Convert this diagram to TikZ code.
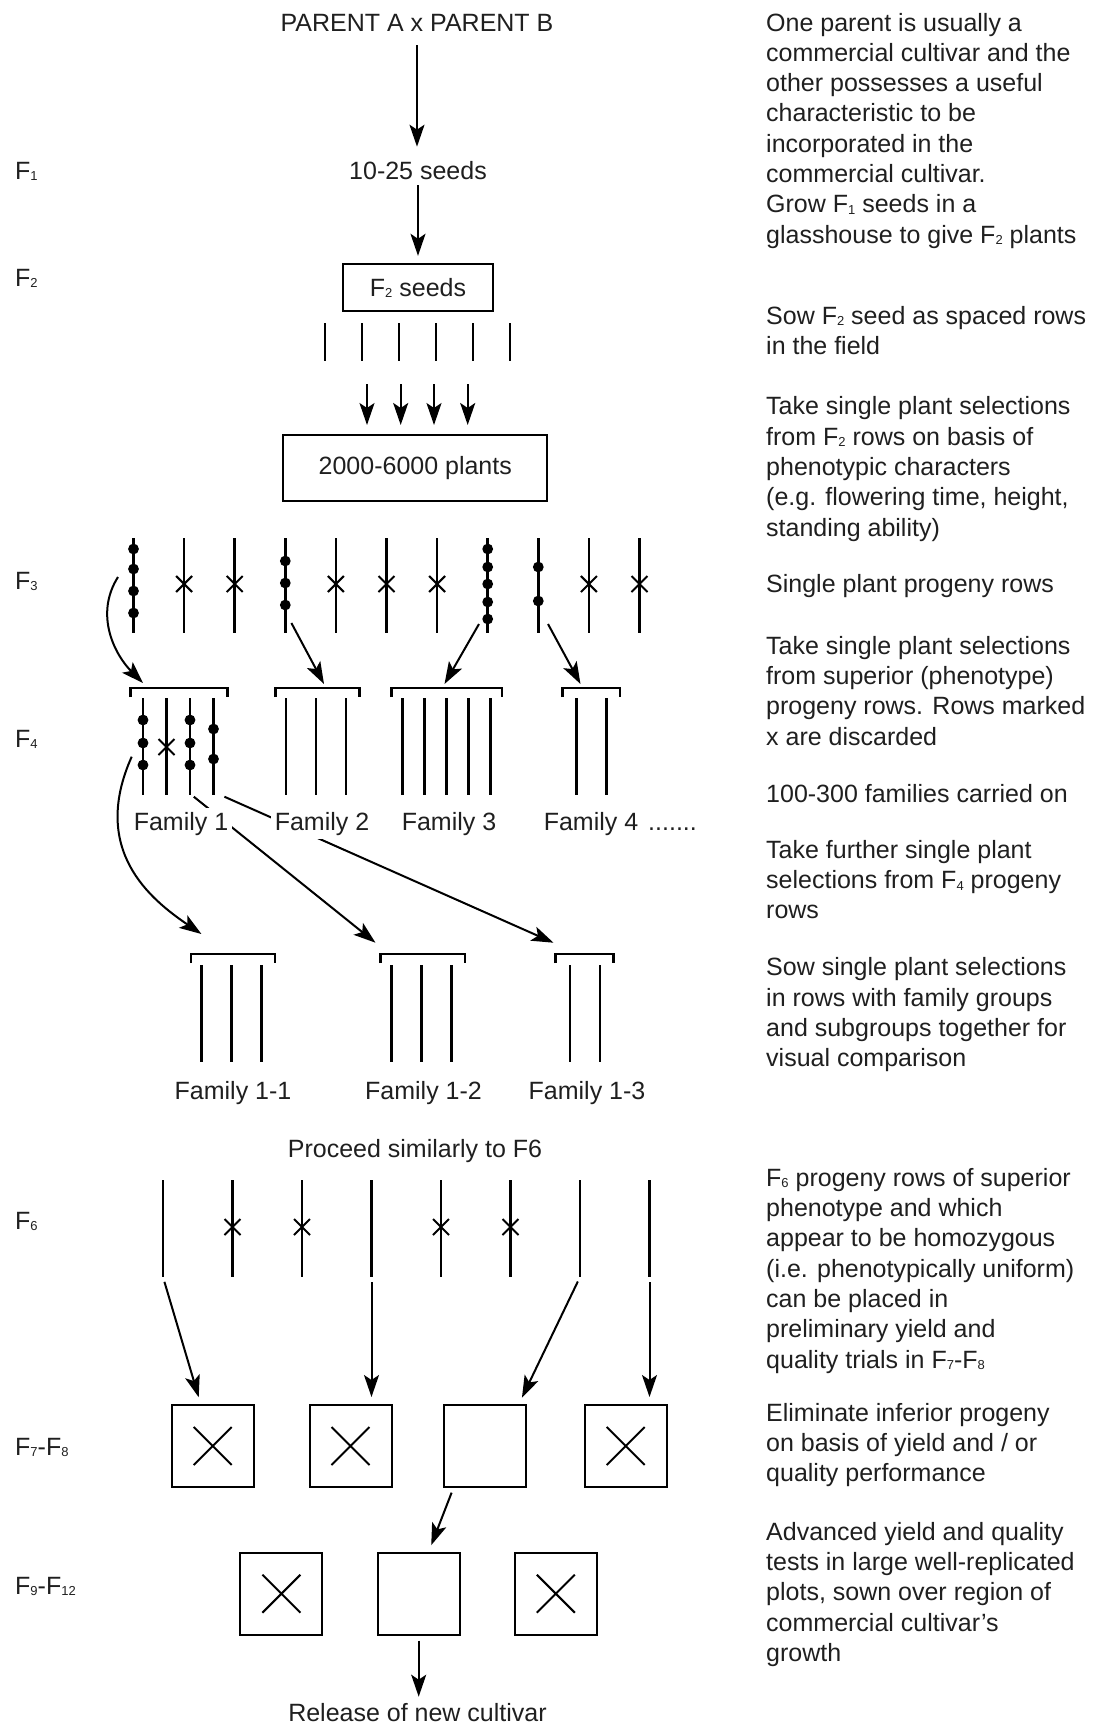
\documentclass[tikz,border=0pt]{standalone}
\usepackage{fontspec}
\setmainfont{Liberation Sans}
\usetikzlibrary{arrows.meta}

\newcommand{\gen}[1]{F{\fontsize{13}{13}\selectfont\raisebox{-1.5pt}{#1}}}

\tikzset{
  lbl/.style={font=\fontsize{25}{30.3}\selectfont, inner sep=0pt, text=black!88},
  note/.style={lbl, anchor=north west, align=left},
  genlbl/.style={lbl, anchor=base west},
  title/.style={lbl, anchor=base},
  fam/.style={lbl, anchor=base, fill=white, inner sep=4pt},
  box/.style={lbl, draw=black, line width=2pt},
  plot/.style={draw, line width=2pt, minimum size=82pt, inner sep=0pt},
  dropped/.style={plot, path picture={
      \draw[line width=2pt] ([shift={(-19pt,-19pt)}]path picture bounding box.center) -- ++(38pt,38pt)
                            ([shift={(-19pt,19pt)}]path picture bounding box.center) -- ++(38pt,-38pt);}},
  row/.style={line width=2.6pt},
  brk/.style={line width=2.4pt},
  xmark/.style={line width=2pt},
  arr/.style={line width=2pt, -{Stealth[length=22pt, width=15pt, inset=5pt]}},
}

\begin{document}
\begin{tikzpicture}[x=1pt,y=-1pt]
\useasboundingbox (0,0) rectangle (1099,1724);

% generations
\node[genlbl] (g1) at (15,179) {\gen{1}};
\node[genlbl] (g2) at (15,286) {\gen{2}};
\node[genlbl] (g3) at (15,589) {\gen{3}};
\node[genlbl] (g4) at (15,747) {\gen{4}};
\node[genlbl] (g6) at (15,1229) {\gen{6}};
\node[genlbl] (g7) at (15,1455) {\gen{7}-\gen{8}};
\node[genlbl] (g9) at (15,1594) {\gen{9}-\gen{12}};

% cross and F1, F2
\node[title] (parents) at (417,31) {PARENT A x PARENT B};
\node[title] (f1seed) at (418,179) {10-25 seeds};
\node[box, minimum width=150.5pt, minimum height=47pt] (f2seed) at (418,287.8) {\gen{2} seeds};
\node[box, minimum width=264pt, minimum height=65.7pt] (plants) at (415.3,467.9) {2000-6000 plants};
\draw[arr, shorten <=14pt, shorten >=14pt] (parents.south) -- (parents.south |- f1seed.north);
\draw[arr, shorten <=6pt, shorten >=7.5pt] (f1seed.south) -- (f1seed.south |- f2seed.north);
\foreach \i in {0,...,5}
  \draw[brk] ({325+37*\i},323) -- ++(0,38);
\foreach \x in {367,400.7,434,467.7}
  \draw[arr] (\x,384) -- (\x,425);

% F3 progeny rows
\foreach \i in {1,...,11}
  \draw[row] ({133.5+50.6*(\i-1)},538) -- ++(0,95);
\foreach \x/\ys in {133.5/{549,569,591,613}, 285.3/{561,583,605}, 487.7/{549,567,584,602,619}, 538.3/{567,601}}
  \foreach \y in \ys
    \fill (\x,\y) circle[radius=5.4pt];
\foreach \i in {2,3,5,6,7,10,11}
  \draw[xmark] ({133.5+50.6*(\i-1)},584) +(-8,-8) -- +(8,8) +(-8,8) -- +(8,-8);

% F4 families
\foreach \l/\r in {130.6/227.6, 275.5/359.5, 391.6/502, 562.3/620}
  \draw[brk] (\l,697) -- (\l,688) -- (\r,688) -- (\r,697);
\coordinate (t1) at (143,683);
\coordinate (t2) at (324,684);
\coordinate (t3) at (444.5,684);
\coordinate (t4) at (580.5,684);
\draw[arr] (118,577) .. controls (94,615) and (115,655) .. (t1);
\draw[arr] (291.4,623) -- (t2);
\draw[arr] (479,624) -- (t3);
\draw[arr] (548,624) -- (t4);
\foreach \x in {143,166.5,190,213.5, 286,316,346, 402.5,424.5,446.5,468.5,490.5, 576.5,606.5}
  \draw[row] (\x,698) -- (\x,795);
\foreach \x/\ys in {143/{720,743,765}, 190/{720,743,765}, 213.5/{729,759}}
  \foreach \y in \ys
    \fill (\x,\y) circle[radius=5.4pt];
\draw[xmark] (166.5,747) +(-8,-8) -- +(8,8) +(-8,8) -- +(8,-8);

% selections from family 1
\coordinate (u1) at (201.4,934);
\coordinate (u2) at (375.5,942.7);
\coordinate (u3) at (553.5,942.7);
\draw[arr] (131.7,756.7) .. controls (90,850) and (150,899) .. (u1);
\draw[arr] (193.8,796.7) -- (u2);
\draw[arr] (224.4,796.7) -- (u3);
\node[fam] (fam1) at (181,830) {Family 1};
\node[fam] (fam2) at (322,830) {Family 2};
\node[fam] (fam3) at (449,830) {Family 3};
\node[fam] (fam4) at (591,830) {Family 4};
\node[genlbl] (more) at (648,830) {.......};

\foreach \l/\r in {190.7/274.9, 380.5/464.7, 555.4/613.6}
  \draw[brk] (\l,963) -- (\l,954) -- (\r,954) -- (\r,963);
\foreach \x in {201.4,231.3,261.5, 391.6,421.5,451.3, 570,599.8}
  \draw[row] (\x,965) -- (\x,1062);
\node[fam] (fam11) at (233,1099) {Family 1-1};
\node[fam] (fam12) at (423.5,1099) {Family 1-2};
\node[fam] (fam13) at (587,1099) {Family 1-3};

% F6 rows and yield trials
\node[title] (proceed) at (415,1157) {Proceed similarly to F6};
\foreach \i in {1,...,8}
  \draw[row] ({163+69.5*(\i-1)},1180) -- ++(0,97) coordinate (e\i);
\foreach \i in {2,3,5,6}
  \draw[xmark] ({163+69.5*(\i-1)},1227) +(-8,-8) -- +(8,8) +(-8,8) -- +(8,-8);

\node[dropped] (m1) at (212.7,1446) {};
\node[dropped] (m2) at (350.5,1446) {};
\node[plot] (m3) at (485.4,1446) {};
\node[dropped] (m4) at (625.7,1446) {};
\draw[arr, shorten <=5pt, shorten >=7pt] (e1) -- ([xshift=-12pt]m1.north);
\draw[arr, shorten <=5pt, shorten >=7pt] (e4) -- (e4 |- m2.north);
\draw[arr, shorten <=5pt, shorten >=7pt] (e7) -- ([xshift=33.5pt]m3.north);
\draw[arr, shorten <=5pt, shorten >=7pt] (e8) -- (e8 |- m4.north);

\node[dropped] (n1) at (281.4,1593.7) {};
\node[plot] (n2) at (418.7,1593.7) {};
\node[dropped] (n3) at (555.8,1593.7) {};
\draw[arr, shorten <=5pt, shorten >=7pt] ([xshift=-32pt]m3.south) -- ([xshift=10pt]n2.north);
\node[title] (release) at (417.5,1721) {Release of new cultivar};
\draw[arr, shorten <=5pt, shorten >=6pt] (n2.south) -- (n2.south |- release.north);

% notes
\node[note] (n-cross) at (766,12.7) {One parent is usually a\\commercial cultivar and the\\other possesses a useful\\characteristic to be\\incorporated in the\\commercial cultivar.\\Grow \gen{1} seeds in a\\glasshouse to give \gen{2} plants};
\node[note] (n-sow) at (766,306) {Sow \gen{2} seed as spaced rows\\in the field};
\node[note] (n-take) at (766,396.5) {Take single plant selections\\from \gen{2} rows on basis of\\phenotypic characters\\(e.g. flowering time, height,\\standing ability)};
\node[note] (n-rows) at (766,574.6) {Single plant progeny rows};
\node[note] (n-sup) at (766,636) {Take single plant selections\\from superior (phenotype)\\progeny rows. Rows marked\\x are discarded};
\node[note] (n-fam) at (766,784.5) {100-300 families carried on};
\node[note] (n-further) at (766,840) {Take further single plant\\selections from \gen{4} progeny\\rows};
\node[note] (n-groups) at (766,957.5) {Sow single plant selections\\in rows with family groups\\and subgroups together for\\visual comparison};
\node[note] (n-homo) at (766,1168) {\gen{6} progeny rows of superior\\phenotype and which\\appear to be homozygous\\(i.e. phenotypically uniform)\\can be placed in\\preliminary yield and\\quality trials in \gen{7}-\gen{8}};
\node[note] (n-elim) at (766,1403) {Eliminate inferior progeny\\on basis of yield and / or\\quality performance};
\node[note] (n-adv) at (766,1522) {Advanced yield and quality\\tests in large well-replicated\\plots, sown over region of\\commercial cultivar's\\growth};
\end{tikzpicture}
\end{document}
